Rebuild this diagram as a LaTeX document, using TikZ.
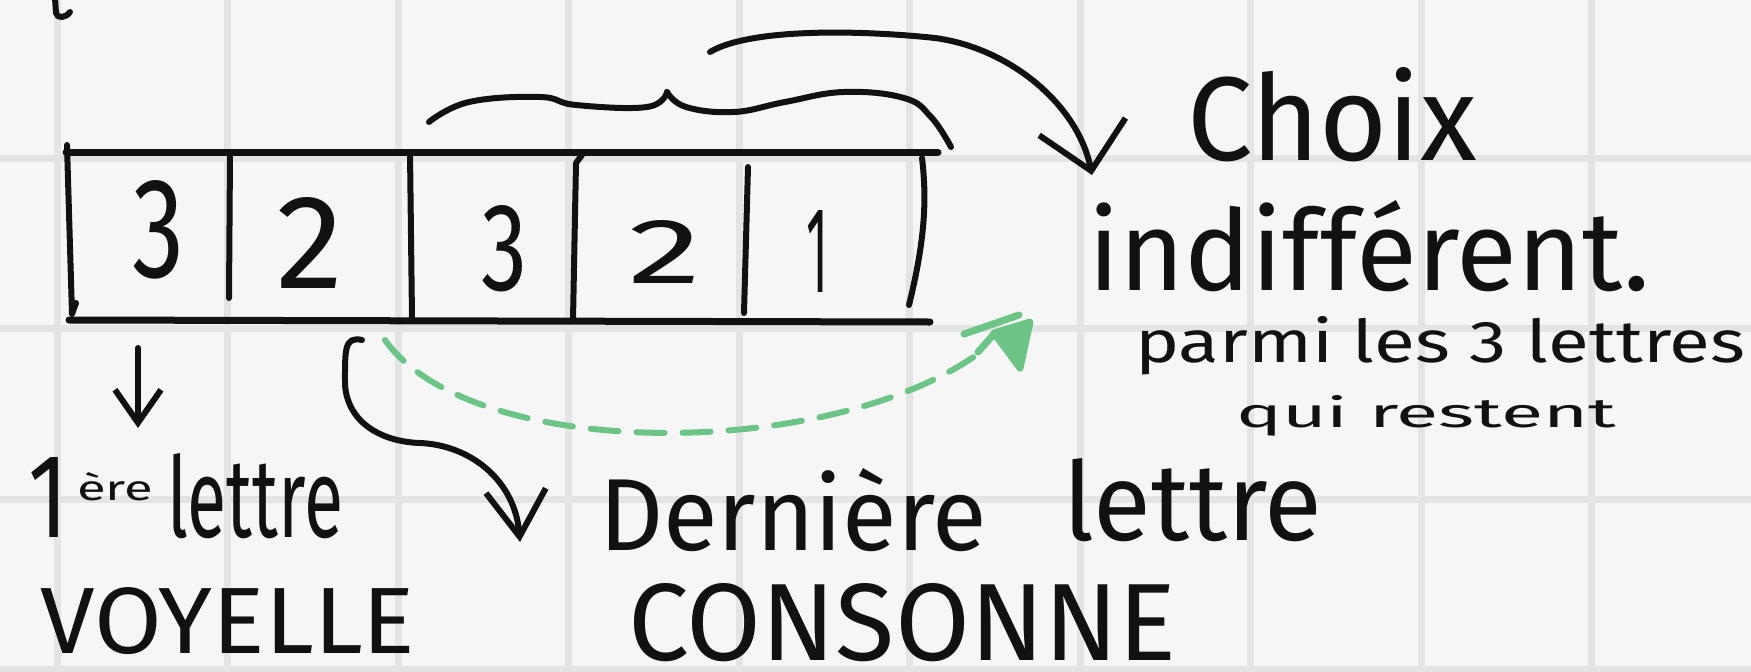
\documentclass[tikz,border=0pt]{standalone}
\usepackage{fontspec}
\usepackage{graphicx}
\usetikzlibrary{arrows.meta}
\IfFontExistsTF{FiraSans-ExtraLight.otf}{\newfontfamily\handf{FiraSans-ExtraLight.otf}}{%
  \IfFontExistsTF{FiraSans-Light.otf}{\newfontfamily\handf{FiraSans-Light.otf}}{\newfontfamily\handf{Fira Sans}}}
\definecolor{ink}{RGB}{17,17,17}
\definecolor{paper}{RGB}{246,246,246}
\definecolor{gridc}{RGB}{228,228,228}
\definecolor{hlgreen}{RGB}{108,196,135}
\newcommand{\hw}[3]{\resizebox{#1pt}{#2pt}{\handf #3}}
\begin{document}
\begin{tikzpicture}[x=1pt,y=-1pt,line cap=round,line join=round,
  pen/.style={draw=ink,line width=6pt},
  boxline/.style={draw=ink,line width=7pt},
  gridline/.style={draw=gridc,line width=7pt,line cap=butt},
  hand/.style={inner sep=0pt,outer sep=0pt,anchor=base west,text=ink},
  greendash/.style={draw=hlgreen,line width=6pt,dash pattern=on 28pt off 18pt},
  greenpen/.style={draw=hlgreen,line width=7pt}]
\fill[paper] (0,0) rectangle (1751,672);
\useasboundingbox (0,0) rectangle (1751,672);
% grid
\foreach \i in {0,...,9} \draw[gridline] ({57+170.5*\i},0) -- ({57+170.5*\i},672);
\foreach \j in {0,...,3} \draw[gridline] (0,{158+170.5*\j}) -- (1751,{158+170.5*\j});
% stray mark top-left
\draw[pen] (55,-2) -- (56,13) .. controls (57,19) and (66,18) .. (70,12);
% the box
\draw[boxline] (66,152) -- (938,152);
\draw[boxline] (69,320) -- (930,322);
\draw[pen] (67,145) -- (72,314) -- (76,303);
\draw[pen] (230,153) -- (229,298);
\draw[pen] (410,152) -- (412,318);
\draw[pen] (582,155) -- (576,163) -- (573,320);
\draw[pen] (748,167) -- (744,313);
\draw[pen] (922,158) .. controls (927,200) and (925,240) .. (909,305);
% digits
\node[hand] (d1) at (132,277) {\hw{52}{97}{3}};
\node[hand] (d2) at (276,288) {\hw{67}{91}{2}};
\node[hand] (d3) at (481,290) {\hw{46}{85}{3}};
\node[hand] (d4) at (628,283) {\hw{73}{63}{2}};
\node[hand] (d5) at (806,292) {\hw{22}{82}{1}};
% texts
\node[hand] (choix) at (1187,160) {\hw{290}{93}{Choix}};
\node[hand] (indiff) at (1088,290) {\hw{562}{90}{indifférent.}};
\node[hand] (parmi) at (1135,362) {\hw{610}{46}{parmi les 3 lettres}};
\node[hand] (qui) at (1236,427) {\hw{380}{32}{qui restent}};
\node[hand] (dern) at (599,550) {\hw{388}{82}{Dernière}};
\node[hand] (lettreb) at (1063,540) {\hw{259}{82}{lettre}};
\node[hand] (conso) at (628,660) {\hw{548}{77}{CONSONNE}};
\node[hand] (un) at (28,537) {\hw{40}{80}{1}};
\node[hand] (ere) at (77,500) {\hw{76}{28}{ère}};
\node[hand] (lettrea) at (167,537) {\hw{176}{84}{lettre}};
\node[hand] (voy) at (40,653) {\hw{375}{66}{VOYELLE}};
% brace over the last three cells
\draw[pen] plot[smooth,tension=0.7] coordinates {(429,122) (469,102) (540,97) (576,105) (647,107) (667,92)};
\draw[pen] plot[smooth,tension=0.7] coordinates {(667,92) (686,107) (734,112) (785,102) (844,92) (904,98) (931,117) (951,147)};
% arrows
\coordinate (a1s) at (138,348);
\coordinate (a1e) at (138,428);
\draw[pen,-{Straight Barb[length=33pt,width=46pt]}] (a1s) -- (a1e);
\coordinate (a2s) at (362,340);
\coordinate (a2e) at (520,542);
\draw[pen,-{Straight Barb[length=46pt,width=60pt]}] (a2s) .. controls (344,336) and (345,350) .. (345,385) .. controls (348,425) and (385,442) .. (420,443) .. controls (470,445) and (515,480) .. (a2e);
\coordinate (a3s) at (710,52);
\coordinate (a3e) at (1092,175);
\draw[pen,-{Straight Barb[length=45pt,width=88pt]}] (a3s) .. controls (750,28) and (860,30) .. (935,38) .. controls (1010,48) and (1078,105) .. (a3e);
% green dashed arrow
\coordinate (gs) at (385,340);
\coordinate (ge) at (975,356);
\draw[greendash] (gs) .. controls (470,460) and (820,462) .. (ge);
\draw[greenpen] (978,352) -- (994,334);
\draw[greenpen] (964,334) -- (1019,315);
\filldraw[greenpen,fill=hlgreen] (994,333) -- (1020,368) -- (1030,322) -- cycle;
\end{tikzpicture}
\end{document}
